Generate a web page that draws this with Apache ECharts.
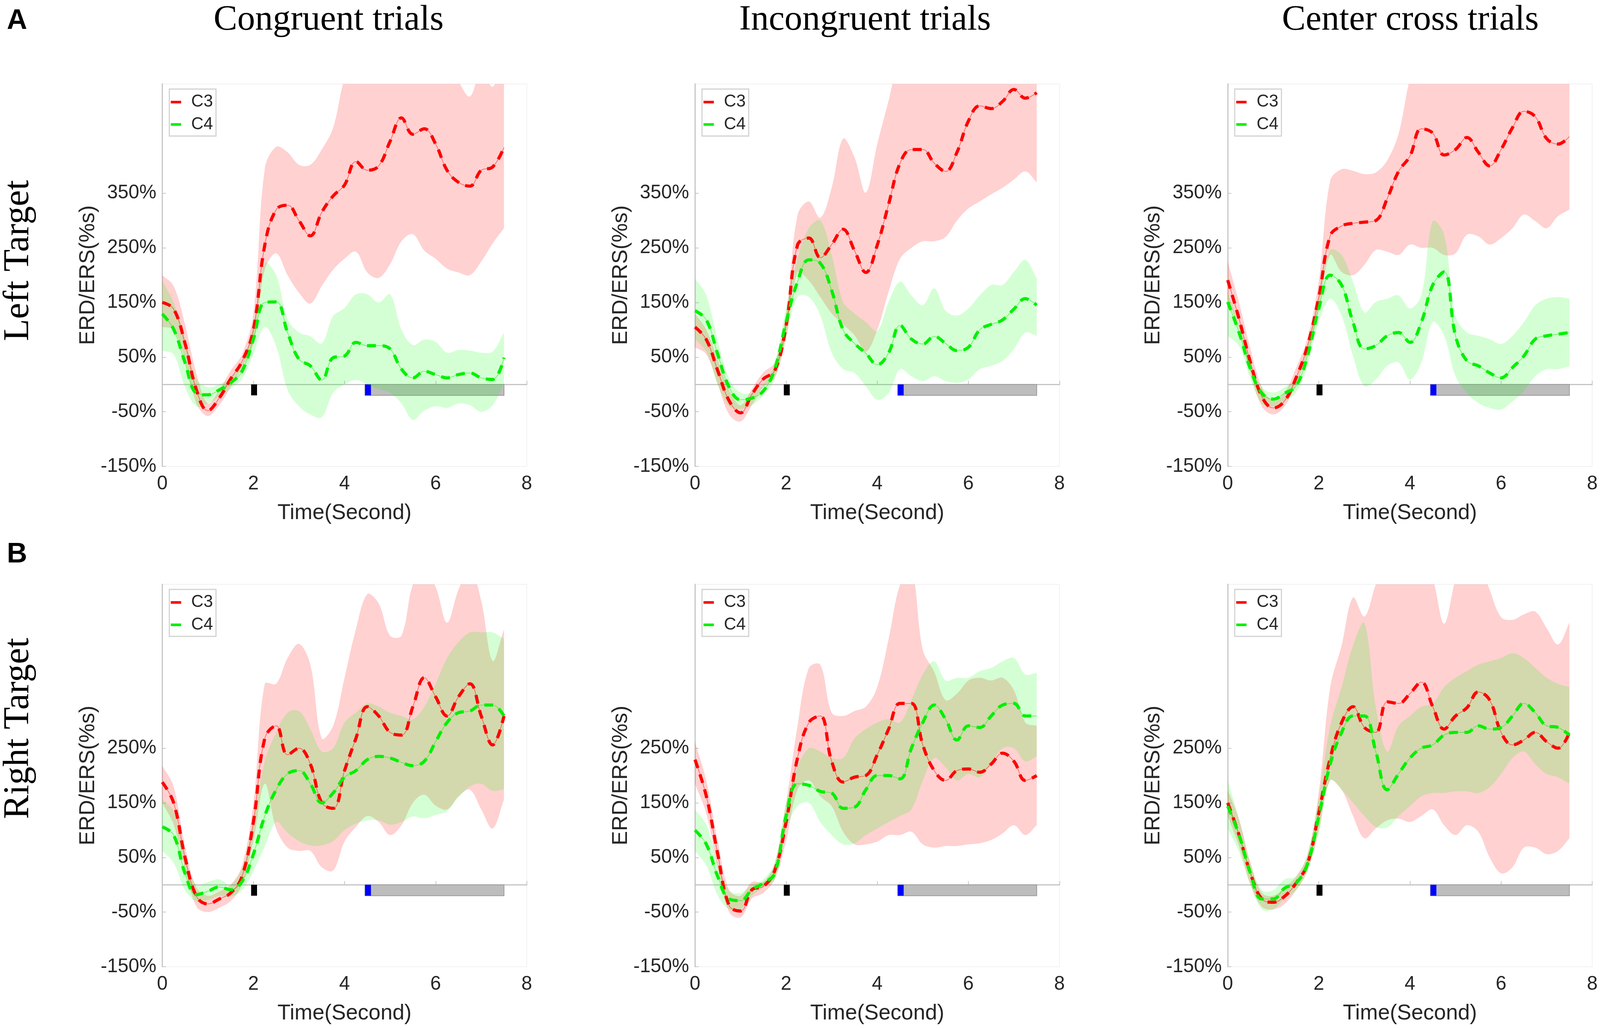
<!doctype html>
<html>
<head>
<meta charset="utf-8">
<title>ERD/ERS C3 / C4</title>
<script src="https://cdn.jsdelivr.net/npm/echarts@6.0.0/dist/echarts.min.js"></script>
<style>
  html, body { margin: 0; padding: 0; background: #fff; overflow: hidden; }
  #chart { width: 100vw; height: 100vh; }
</style>
</head>
<body>
<div id="chart"></div>
<script>
// sample times (s)
var time = [0, 0.25, 0.5, 0.75, 1, 1.25, 1.5, 1.75, 2, 2.25, 2.5, 2.75, 3, 3.25, 3.5, 3.75,
            4, 4.25, 4.5, 4.75, 5, 5.25, 5.5, 5.75, 6, 6.25, 6.5, 6.75, 7, 7.25, 7.5];

// A: left target
var congLeftC3   = [150,138,75,-10,-48,-25,10,42,100,255,320,328,300,272,315,345,365,408,392,400,445,488,458,468,440,392,370,363,392,398,434];
var congLeftC3Hi = [200,180,110,20,-35,-10,25,55,130,395,435,425,402,402,430,470,560,600,620,620,620,620,620,620,600,590,555,527,575,545,600];
var congLeftC3Lo = [105,100,45,-35,-58,-38,-5,30,75,210,240,200,168,148,180,210,230,243,205,195,220,262,275,245,230,212,205,200,225,258,286];
var congLeftC4   = [129,101,40,-16,-19,-10,3,24,83,150,151,95,46,34,8,49,52,77,71,71,65,28,12,24,18,12,18,21,12,9,49];
var congLeftC4Hi = [190,150,85,10,-5,0,12,38,110,222,200,120,95,88,75,125,140,165,165,150,165,100,72,82,78,58,63,62,58,60,95];
var congLeftC4Lo = [62,55,-5,-40,-35,-22,-8,10,55,105,70,-10,-40,-55,-60,-15,0,8,0,-9,-15,-35,-65,-48,-40,-43,-35,-38,-50,-38,3];

var incLeftC3   = [105,82,25,-30,-52,-18,10,25,108,255,268,232,256,284,245,205,255,330,405,430,430,405,390,425,482,510,505,518,540,524,534];
var incLeftC3Hi = [130,100,45,-10,-38,-8,22,40,130,310,335,305,360,450,416,351,440,520,600,620,620,620,620,620,620,620,620,620,620,620,620];
var incLeftC3Lo = [68,55,0,-55,-68,-38,-5,12,85,205,190,160,130,110,90,60,100,170,230,250,262,262,270,300,322,335,348,360,375,390,370];
var incLeftC4   = [135,118,55,-5,-28,-25,-12,28,114,188,228,222,172,100,75,57,36,58,108,83,74,88,75,62,68,100,110,118,138,157,145];
var incLeftC4Hi = [194,163,80,10,-15,-15,0,40,140,230,286,300,237,151,130,114,98,151,188,163,145,176,135,126,139,163,182,182,206,228,194];
var incLeftC4Lo = [83,60,0,-40,-45,-38,-20,10,85,160,160,126,58,28,21,-3,-28,-16,28,15,6,15,6,3,9,28,34,43,65,95,89];

var cenLeftC3   = [191,120,40,-22,-43,-30,12,70,160,272,290,295,297,300,340,390,418,468,460,420,430,452,425,400,430,470,500,490,450,440,454];
var cenLeftC3Hi = [225,150,65,-5,-30,-15,30,85,190,373,394,391,385,388,410,459,560,620,620,620,620,620,620,620,620,620,620,620,620,620,620];
var cenLeftC3Lo = [157,100,20,-40,-55,-40,0,55,140,237,206,200,219,246,243,237,256,250,250,237,240,274,271,256,268,286,311,299,286,308,320];
var cenLeftC4   = [151,95,28,-16,-27,-16,-3,52,139,200,182,114,65,71,89,95,77,114,182,206,89,43,34,21,12,31,52,83,89,92,95];
var cenLeftC4Hi = [169,110,40,-5,-15,-5,10,70,160,246,237,188,132,151,157,163,139,163,299,274,126,95,89,83,74,89,114,145,157,160,157];
var cenLeftC4Lo = [89,70,10,-35,-40,-30,-15,35,115,157,126,52,-3,9,34,40,9,40,114,89,15,-16,-34,-43,-46,-31,-12,15,28,28,34];

// B: right target
var congRightC3   = [188,150,50,-21,-35,-26,-15,15,115,268,291,238,250,221,150,140,209,268,326,309,279,274,326,379,344,309,344,368,309,256,309];
var congRightC3Hi = [218,180,70,-5,-20,-12,0,35,150,368,368,415,441,403,268,291,379,468,532,515,456,456,550,575,545,480,540,580,520,410,468];
var congRightC3Lo = [150,110,30,-40,-50,-42,-30,0,80,185,103,68,62,62,32,26,79,106,126,115,91,109,150,165,145,138,162,174,138,103,156];
var congRightC4   = [106,91,21,-18,-12,-4,-9,6,56,126,174,203,209,185,150,168,197,209,229,235,232,224,218,226,262,297,315,318,329,329,309];
var congRightC4Hi = [156,135,50,0,5,10,0,30,115,226,279,315,318,285,244,250,297,315,332,326,315,309,303,326,368,415,444,462,462,462,450];
var congRightC4Lo = [62,40,-10,-30,-28,-20,-22,-10,25,70,115,95,80,72,72,80,100,112,118,118,110,115,125,122,128,135,160,180,185,172,175];

var incRightC3   = [229,162,56,-38,-48,-9,-3,26,115,232,297,309,226,188,197,200,238,285,332,332,256,209,191,209,212,206,221,241,226,191,200];
var incRightC3Hi = [262,190,80,-10,-20,5,5,40,150,291,397,403,315,309,318,326,362,450,550,580,430,390,338,350,374,379,374,379,356,297,291];
var incRightC3Lo = [185,130,30,-50,-60,-25,-15,10,80,174,191,162,144,97,74,74,79,91,91,97,74,68,71,71,74,76,82,94,109,91,109];
var incRightC4   = [100,74,15,-26,-29,-9,3,21,126,185,182,171,168,140,142,174,200,200,194,250,297,329,303,265,291,288,309,329,332,309,309];
var incRightC4Hi = [138,110,40,-10,-15,0,10,40,150,215,250,244,232,232,268,285,297,303,297,338,385,409,374,379,379,391,397,409,415,385,388];
var incRightC4Lo = [62,35,-20,-45,-45,-20,-5,10,100,144,150,115,91,74,76,91,103,115,126,138,191,232,215,191,203,197,221,250,250,226,235];

var cenRightC3   = [150,91,21,-26,-32,-21,3,38,132,232,297,326,288,279,335,332,350,371,326,285,309,324,353,338,279,256,265,279,262,250,279];
var cenRightC3Hi = [174,120,40,-15,-20,-5,15,55,170,362,438,526,491,550,600,620,620,600,560,478,560,620,600,540,490,485,495,500,470,440,480];
var cenRightC3Lo = [126,70,0,-40,-45,-35,-10,25,100,191,174,126,85,103,118,121,115,126,138,109,91,109,97,50,21,32,68,68,56,62,85];
var cenRightC4   = [144,91,21,-26,-26,-6,3,38,126,221,279,309,309,244,174,203,232,250,256,274,279,279,291,285,288,309,332,315,291,288,274];
var cenRightC4Hi = [191,120,40,-10,-10,10,15,55,160,291,362,438,479,326,244,291,309,326,332,362,379,391,403,409,415,424,415,397,379,368,362];
var cenRightC4Lo = [103,60,0,-45,-45,-25,-10,25,95,191,174,150,126,106,105,126,144,162,168,168,171,171,168,179,203,232,244,221,203,197,185];

// event markers: [t0, t1, y0, y1] -> cue, trial window, onset
var markerBoxes = [[1.95, 2.08, -20, 0], [4.45, 7.5, -20, 0], [4.45, 4.58, -20, 0]];

var colTitles = ['Congruent trials', 'Incongruent trials', 'Center cross trials'];
var rowTitles = ['Left Target', 'Right Target'];
var rowLetters = ['A', 'B'];
var yTicksTop = [-150, -50, 50, 150, 250, 350];
var yTicksBottom = [-150, -50, 50, 150, 250];

var panels = [
  [congLeftC3, congLeftC3Hi, congLeftC3Lo, congLeftC4, congLeftC4Hi, congLeftC4Lo],
  [incLeftC3, incLeftC3Hi, incLeftC3Lo, incLeftC4, incLeftC4Hi, incLeftC4Lo],
  [cenLeftC3, cenLeftC3Hi, cenLeftC3Lo, cenLeftC4, cenLeftC4Hi, cenLeftC4Lo],
  [congRightC3, congRightC3Hi, congRightC3Lo, congRightC4, congRightC4Hi, congRightC4Lo],
  [incRightC3, incRightC3Hi, incRightC3Lo, incRightC4, incRightC4Hi, incRightC4Lo],
  [cenRightC3, cenRightC3Hi, cenRightC3Lo, cenRightC4, cenRightC4Hi, cenRightC4Lo]
];

var RED = '#ff0000', GREEN = '#00f000';
var axisGrey = '#c4c4c4', textDark = '#262626';
var sans = 'Liberation Sans', serif = 'Liberation Serif';

var dom = document.getElementById('chart');
// layout was measured on a 4319 x 2637 canvas; follow the real viewport
var sx = dom.clientWidth / 4319, sy = dom.clientHeight / 2637, sf = Math.min(sx, sy);
function X(v) { return v * sx; }
function Y(v) { return v * sy; }
function F(v) { return v * sf; }

var lefts = [438, 1876, 3314], tops = [215, 1496];
var W = 984, H = 979;

function pairs(vals) {
  return vals.map(function (v, k) { return [time[k], v]; });
}

var boxStyles = [
  { fill: '#000000' },
  { fill: '#bdbdbd', stroke: '#9a9a9a', lineWidth: F(2) },
  { fill: '#0000ff' }
];

// filled band between lo and hi as one smoothed polygon
function bandSeries(i, lo, hi, color) {
  return {
    type: 'custom', xAxisIndex: i, yAxisIndex: i, z: 2, silent: true, clip: true,
    data: time.map(function (t, k) { return [t, lo[k], hi[k]]; }),
    encode: { x: 0, y: [1, 2] },
    renderItem: function (params, api) {
      if (params.dataIndex !== 0) return null;
      var n = time.length, pts = [], k;
      for (k = 0; k < n; k++) pts.push(api.coord([api.value(0, k), api.value(2, k)]));
      pts.push(pts[n - 1].slice());
      pts.push(api.coord([api.value(0, n - 1), api.value(1, n - 1)]));
      for (k = n - 1; k >= 0; k--) pts.push(api.coord([api.value(0, k), api.value(1, k)]));
      pts.push(pts[pts.length - 1].slice());
      pts.push(pts[0].slice());
      return { type: 'polygon', shape: { points: pts, smooth: 0.35 }, style: { fill: color } };
    }
  };
}

var grids = [], xAxes = [], yAxes = [], series = [], legends = [], graphics = [];

panels.forEach(function (p, i) {
  var r = Math.floor(i / 3), c = i % 3;
  var yTicks = r === 0 ? yTicksTop : yTicksBottom;
  var maxLab = yTicks[yTicks.length - 1];
  grids.push({ left: X(lefts[c]), top: Y(tops[r]), width: X(W), height: Y(H),
    show: true, borderColor: '#f1f1f1', borderWidth: F(2), backgroundColor: 'transparent' });
  xAxes.push({
    gridIndex: i, type: 'value', min: 0, max: 8, interval: 2,
    axisLine: { lineStyle: { color: axisGrey, width: F(3) } },
    axisTick: { inside: true, length: F(10), lineStyle: { color: axisGrey, width: F(2) } },
    axisLabel: { fontSize: F(52), color: textDark, fontFamily: sans, margin: F(22) },
    splitLine: { show: false }
  });
  yAxes.push({
    gridIndex: i, type: 'value', min: -150, max: 550, interval: 100,
    axisLine: { show: true, lineStyle: { color: axisGrey, width: F(3) } },
    axisTick: { show: true, inside: true, length: F(10), customValues: yTicks,
      lineStyle: { color: axisGrey, width: F(2) } },
    axisLabel: { fontSize: F(52), color: textDark, fontFamily: sans, margin: F(16), customValues: yTicks,
      formatter: function (v) { return v <= maxLab ? v + '%' : ''; } },
    splitLine: { show: false }
  });

  // event bars under everything
  series.push({
    type: 'custom', xAxisIndex: i, yAxisIndex: i, z: 1, silent: true,
    data: markerBoxes,
    renderItem: function (params, api) {
      var a = api.coord([api.value(0), api.value(3)]);
      var b = api.coord([api.value(1), api.value(2)]);
      return { type: 'rect', shape: { x: a[0], y: a[1], width: b[0] - a[0], height: b[1] - a[1] },
        style: boxStyles[params.dataIndex] };
    }
  });

  // shaded error bands
  series.push(bandSeries(i, p[2], p[1], 'rgba(255,0,0,0.18)'));
  series.push(bandSeries(i, p[5], p[4], 'rgba(0,255,0,0.17)'));

  // mean curves: thin solid + thick dashed
  [[p[0], RED, 'C3'], [p[3], GREEN, 'C4']].forEach(function (m) {
    series.push({
      type: 'line', name: m[2] + ' mean', xAxisIndex: i, yAxisIndex: i, data: pairs(m[0]),
      smooth: 0.4, symbol: 'none', silent: true, z: 3,
      lineStyle: { color: m[1], width: F(2), opacity: 0.5 }
    });
    series.push({
      type: 'line', name: m[2], color: m[1], xAxisIndex: i, yAxisIndex: i, data: pairs(m[0]),
      smooth: 0.4, symbol: 'none', silent: true, z: 4,
      lineStyle: { color: m[1], width: F(8.5), type: [F(24), F(18)], cap: 'butt' }
    });
  });

  legends.push({
    data: [{ name: 'C3', itemStyle: { color: RED } }, { name: 'C4', itemStyle: { color: GREEN } }],
    orient: 'vertical', left: X(lefts[c] + 19), top: Y(tops[r] + 13),
    icon: 'rect', itemWidth: F(28), itemHeight: F(7), itemGap: F(14),
    backgroundColor: '#ffffff', borderColor: '#d2d2d2', borderWidth: F(3),
    padding: [F(12), F(8), F(8), F(4)], selectedMode: false,
    textStyle: { fontSize: F(46), color: textDark, fontFamily: sans, lineHeight: F(46), padding: [0, 0, 0, F(22)] }
  });

  // axis names
  graphics.push({ type: 'text', x: X(lefts[c] - 200), y: Y(tops[r] + H / 2), rotation: Math.PI / 2,
    style: { text: 'ERD/ERS(%s)', fontSize: F(58), fontFamily: sans, fill: textDark,
      align: 'center', verticalAlign: 'middle' } });
  graphics.push({ type: 'text', x: X(lefts[c] + W / 2), y: Y(tops[r] + H + 120),
    style: { text: 'Time(Second)', fontSize: F(58), fontFamily: sans, fill: textDark,
      align: 'center', verticalAlign: 'middle' } });
});

var titleX = [887, 2335, 3807];
colTitles.forEach(function (t, c) {
  graphics.push({ type: 'text', x: X(titleX[c]), y: Y(52),
    style: { text: t, fontSize: F(96), fontFamily: serif, fill: '#000', align: 'center', verticalAlign: 'middle' } });
});
var rowMid = [667, 1865], letterY = [54, 1420];
rowTitles.forEach(function (t, r) {
  graphics.push({ type: 'text', x: X(50), y: Y(rowMid[r]), rotation: Math.PI / 2,
    style: { text: t, fontSize: F(98), fontFamily: serif, fill: '#000', align: 'center', verticalAlign: 'middle' } });
  graphics.push({ type: 'text', x: X(46), y: Y(letterY[r]),
    style: { text: rowLetters[r], fontSize: F(76), fontWeight: 'bold', fontFamily: sans, fill: '#000',
      align: 'center', verticalAlign: 'middle' } });
});

var chart = echarts.init(dom, null, { renderer: 'canvas' });
chart.setOption({
  animation: false,
  backgroundColor: '#ffffff',
  grid: grids,
  xAxis: xAxes,
  yAxis: yAxes,
  legend: legends,
  series: series,
  graphic: graphics
});
</script>
</body>
</html>
